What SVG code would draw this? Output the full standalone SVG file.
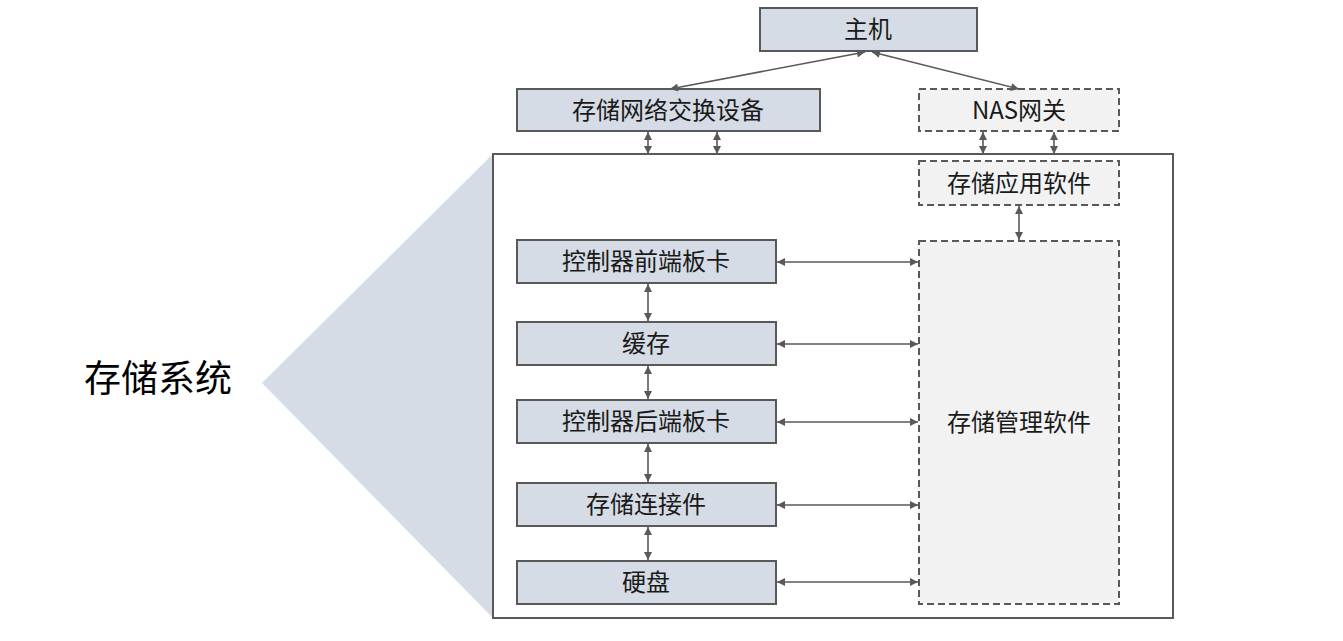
<svg xmlns="http://www.w3.org/2000/svg" width="1343" height="641" viewBox="0 0 1343 641">
<style>
.solid{fill:#d6dce5;stroke:#595959;stroke-width:2}
.dash{fill:#f2f2f2;stroke:#595959;stroke-width:2;stroke-dasharray:7,4}
.t{font-family:"Noto Sans CJK SC","Microsoft YaHei",sans-serif;font-size:24px;fill:#1a1a1a;text-anchor:middle;dominant-baseline:central}
.c{stroke:#595959;stroke-width:1.6;fill:none;marker-start:url(#a);marker-end:url(#a)}
</style>
<defs>
<marker id="a" viewBox="0 0 10 10" refX="10" refY="5" markerWidth="10" markerHeight="8" markerUnits="userSpaceOnUse" orient="auto-start-reverse">
<path d="M0,0 L10,5 L0,10 z" fill="#595959"/>
</marker>
</defs>
<rect width="1343" height="641" fill="#ffffff"/>
<g id="label">
<polygon points="262,383 493,154 493,618" fill="#d6dce5"/>
<text x="158" y="376" font-family="Noto Sans CJK SC,sans-serif" font-size="37" fill="#000" text-anchor="middle" dominant-baseline="central">存储系统</text>
</g>
<g id="container"><rect x="493" y="154" width="680" height="464" fill="#ffffff" stroke="#595959" stroke-width="2"/></g>
<g id="host"><rect class="solid" x="760" y="8" width="217" height="43"/><text class="t" x="868" y="27">主机</text></g>
<g id="switch"><rect class="solid" x="517" y="89" width="303" height="42"/><text class="t" x="668" y="108">存储网络交换设备</text></g>
<g id="nas"><rect class="dash" x="919" y="89" width="200" height="42"/><text class="t" x="1019" y="108">NAS网关</text></g>
<g id="app"><rect class="dash" x="919" y="161" width="200" height="44"/><text class="t" x="1019" y="181">存储应用软件</text></g>
<g id="mgmt"><rect class="dash" x="919" y="241" width="200" height="363"/><text class="t" x="1019" y="420">存储管理软件</text></g>
<g id="front"><rect class="solid" x="517" y="240" width="259" height="43"/><text class="t" x="646" y="259">控制器前端板卡</text></g>
<g id="cache"><rect class="solid" x="517" y="322" width="259" height="43"/><text class="t" x="646" y="341">缓存</text></g>
<g id="back"><rect class="solid" x="517" y="400" width="259" height="43"/><text class="t" x="646" y="419">控制器后端板卡</text></g>
<g id="conn"><rect class="solid" x="517" y="483" width="259" height="43"/><text class="t" x="646" y="502">存储连接件</text></g>
<g id="disk"><rect class="solid" x="517" y="561" width="259" height="43"/><text class="t" x="646" y="580">硬盘</text></g>
<g id="connectors">
<line class="c" x1="865" y1="52" x2="670" y2="89"/>
<line class="c" x1="872" y1="52" x2="1019" y2="89"/>
<line class="c" x1="648" y1="132" x2="648" y2="154"/>
<line class="c" x1="717" y1="132" x2="717" y2="154"/>
<line class="c" x1="983" y1="132" x2="983" y2="154"/>
<line class="c" x1="1054" y1="132" x2="1054" y2="154"/>
<line class="c" x1="1019" y1="206" x2="1019" y2="240"/>
<line class="c" x1="648" y1="284" x2="648" y2="321"/>
<line class="c" x1="648" y1="366" x2="648" y2="399"/>
<line class="c" x1="648" y1="444" x2="648" y2="482"/>
<line class="c" x1="648" y1="527" x2="648" y2="560"/>
<line class="c" x1="777" y1="262" x2="918" y2="262"/>
<line class="c" x1="777" y1="344" x2="918" y2="344"/>
<line class="c" x1="777" y1="422" x2="918" y2="422"/>
<line class="c" x1="777" y1="505" x2="918" y2="505"/>
<line class="c" x1="777" y1="582" x2="918" y2="582"/>
</g>
</svg>
